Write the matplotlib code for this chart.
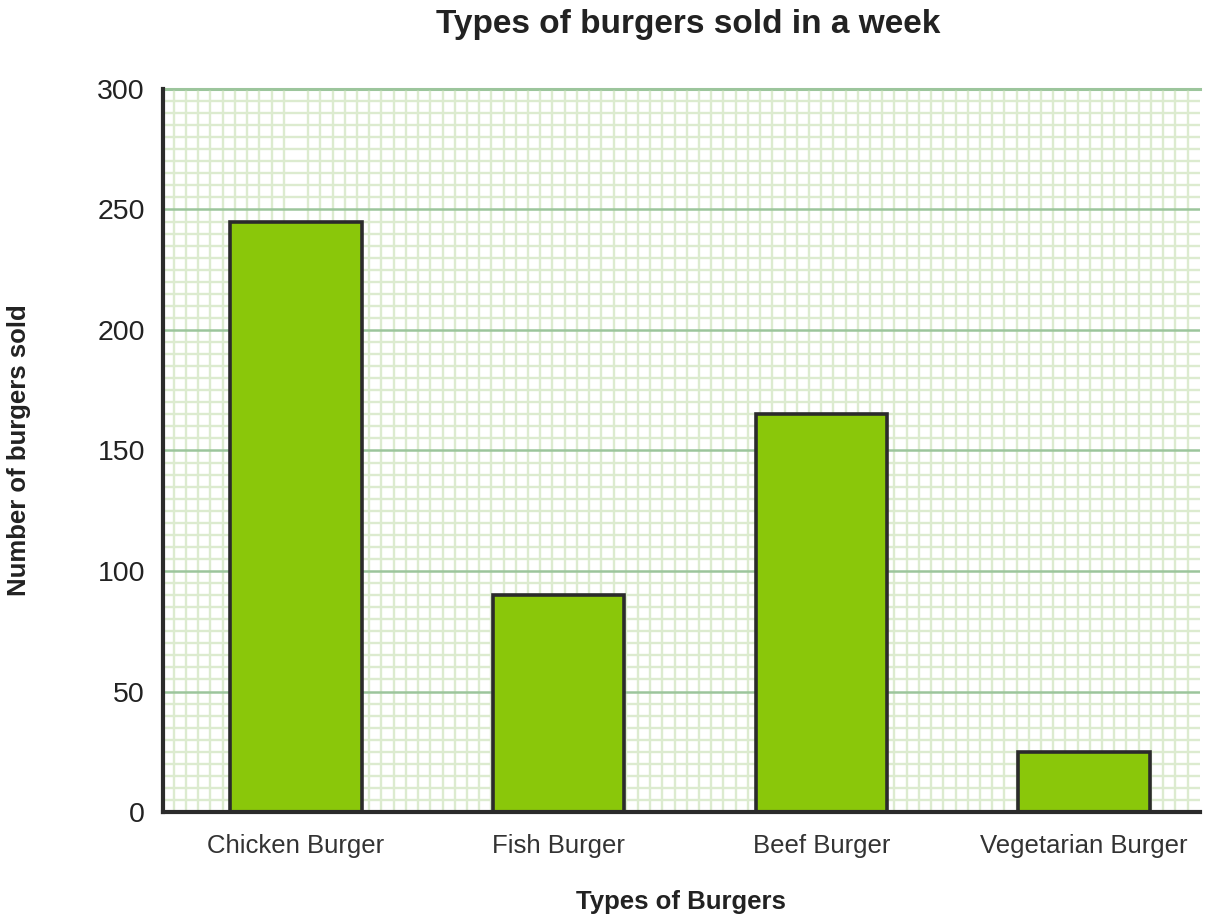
import numpy as np
import matplotlib.pyplot as plt
from matplotlib.ticker import MultipleLocator

plt.rcParams['font.family'] = ['Liberation Sans', 'DejaVu Sans']

# datos del grafico
burgers = ["Chicken Burger", "Fish Burger", "Beef Burger", "Vegetarian Burger"]
sold = [245, 90, 165, 25]

fig = plt.figure(figsize=(12.24, 9.22), dpi=100)
ax = fig.add_axes([0.1332, 0.1193, 0.8468, 0.7842])

x = np.arange(len(burgers))
ax.bar(x, sold, width=0.5, color="#8ac70a", edgecolor="#2b2b2b", linewidth=2.6, zorder=3)

ax.set_xlim(-0.506, 3.44)
ax.set_ylim(0, 300)
ax.set_xticks(x)
ax.set_xticklabels(burgers, fontsize=18.5, color="#333333")
ax.yaxis.set_major_locator(MultipleLocator(50))
ax.tick_params(axis="y", labelsize=20.5, length=0, pad=13)
ax.tick_params(axis="x", length=0, pad=16)
for t in ax.get_yticklabels():
    t.set_color("#222222")

# cuadricula tipo papel milimetrado
ax.xaxis.set_minor_locator(MultipleLocator(0.0465))
ax.yaxis.set_minor_locator(MultipleLocator(5))
ax.tick_params(which="minor", length=0)
ax.grid(which="minor", color="#dcebcf", linewidth=1.7, zorder=0)
ax.grid(which="major", axis="y", color="#9cc59c", linewidth=1.8, zorder=1)
ax.grid(which="major", axis="x", visible=False)
ax.axhline(300, color="#9cc59c", linewidth=2.2, zorder=1, clip_on=False)

for s in ["top", "right"]:
    ax.spines[s].set_visible(False)
for s in ["left", "bottom"]:
    ax.spines[s].set_color("#2b2b2b")
    ax.spines[s].set_linewidth(3)
    ax.spines[s].set_zorder(4)

ax.set_xlabel("Types of Burgers", fontsize=18.5, fontweight="bold", color="#222222", labelpad=23)
ax.set_ylabel("Number of burgers sold", fontsize=18.5, fontweight="bold", color="#222222", labelpad=48)
fig.suptitle("Types of burgers sold in a week", fontsize=24, fontweight="bold", color="#222222", x=0.562, y=0.99)

fig.savefig("out.png", dpi=100)
